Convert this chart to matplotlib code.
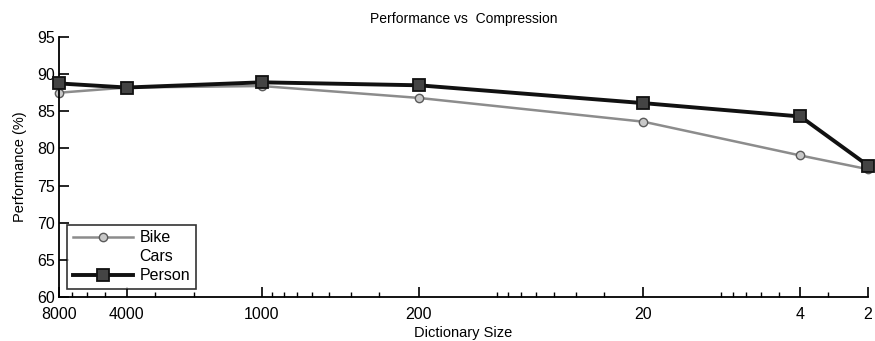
import numpy as np
import matplotlib.pyplot as plt
from matplotlib.ticker import LogLocator, NullFormatter

plt.rcParams['font.family'] = ['Liberation Sans', 'DejaVu Sans']

# Размер словаря и производительность
dict_size = [8000, 4000, 1000, 200, 20, 4, 2]
tick_labels = ['8000', '4000', '1000', '200', '20', '4', '2']
bike = [87.5, 88.2, 88.4, 86.8, 83.6, 79.05, 77.2]
person = [88.75, 88.2, 88.9, 88.5, 86.1, 84.3, 77.7]

fig = plt.figure(figsize=(8.75, 3.41), dpi=100)
ax = fig.add_axes([0.0674, 0.129, 0.9246, 0.7625])

ax.plot(dict_size, bike, color='#8c8c8c', lw=1.8, marker='o', ms=6,
        mfc='#c8c8c8', mec='#5a5a5a', mew=1.0, label='Bike', clip_on=False)
ax.plot([], [], color='none', label='Cars')
ax.plot(dict_size, person, color='#111111', lw=2.8, marker='s', ms=8,
        mfc='#444444', mec='#111111', mew=1.3, label='Person', clip_on=False, zorder=3)

ax.set_xscale('log')
ax.set_xlim(8000, 2)
ax.set_ylim(60, 95)
ax.set_xticks(dict_size)
ax.set_xticklabels(tick_labels)
ax.xaxis.set_minor_locator(LogLocator(base=10, subs=np.arange(2, 10)))
ax.xaxis.set_minor_formatter(NullFormatter())
ax.set_yticks(np.arange(60, 96, 5))

ax.spines['top'].set_visible(False)
ax.spines['right'].set_visible(False)
ax.spines['left'].set_linewidth(1.3)
ax.spines['bottom'].set_linewidth(1.3)
ax.tick_params(axis='both', which='major', direction='in', length=7, width=1.2,
               labelsize=11.5, pad=3)
ax.tick_params(axis='x', which='major', pad=7)
ax.tick_params(axis='x', which='minor', direction='in', length=3.5, width=1)

ax.set_xlabel('Dictionary Size', fontsize=10.5, labelpad=3)
ax.set_ylabel('Performance (%)', fontsize=10.5, labelpad=7)
ax.set_title('Performance vs  Compression', fontsize=10, pad=10)

leg = ax.legend(loc='lower left', fontsize=11.5, frameon=True, fancybox=False,
                edgecolor='black', borderaxespad=0.5, handlelength=3.8,
                handletextpad=0.4, labelspacing=0.25, borderpad=0.35)
leg.get_frame().set_linewidth(1.2)

fig.savefig('out.png', dpi=100)
